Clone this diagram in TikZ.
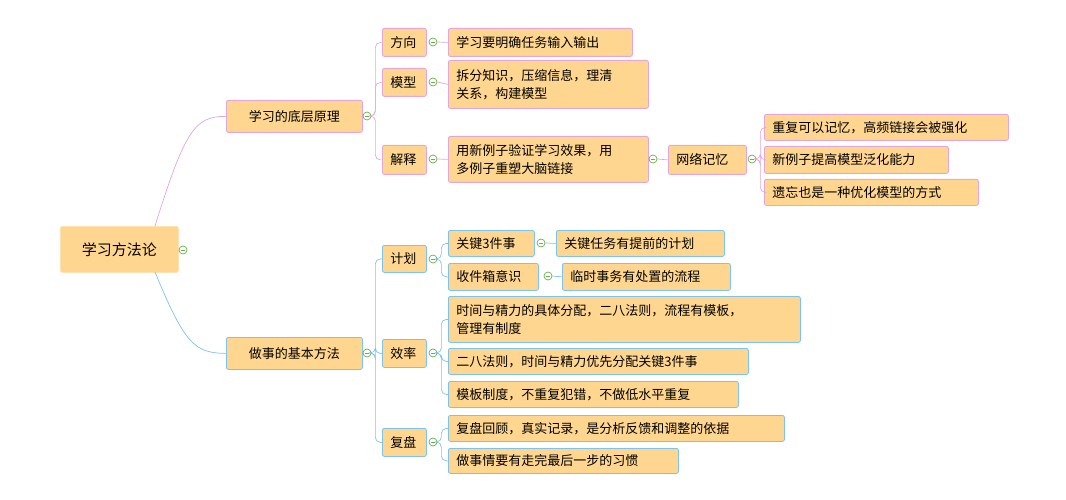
\documentclass[tikz,border=0pt]{standalone}
\usepackage{fontspec}
\newfontfamily\cjk{Noto Sans CJK SC}
\definecolor{fillc}{HTML}{FFD68F}
\definecolor{pinkc}{HTML}{E3A6D8}
\definecolor{bluec}{HTML}{7EC2EE}
\definecolor{greenc}{HTML}{6AB04C}
\tikzset{
 bx/.style={draw, fill=fillc, rounded corners=2pt, anchor=north west, align=left, inner xsep=8pt, inner ysep=0pt, font=\cjk\fontsize{13}{18}\selectfont, line width=0.8pt},
 pk/.style={bx, draw=pinkc},
 bl/.style={bx, draw=bluec},
 cl/.style={circle, draw=greenc, fill=white, minimum size=8pt, inner sep=0pt, line width=0.7pt, path picture={\draw[greenc,line width=0.7pt] ([xshift=-2pt]path picture bounding box.center) -- ([xshift=2pt]path picture bounding box.center);}},
 pl/.style={draw=pinkc, line width=0.7pt, rounded corners=5pt},
 bll/.style={draw=bluec, line width=0.7pt, rounded corners=5pt},
}
\newcommand{\bxn}[7]{\node[#1, minimum width=#5pt, minimum height=#6pt, text width=\dimexpr#5pt-16pt\relax] (#2) at (#3,#4) {#7};}
\begin{document}
\begin{tikzpicture}[x=1pt,y=-1pt]
\useasboundingbox (0,0) rectangle (1066,500);
% root
\node[bx, draw=fillc!70!white, minimum width=118pt, minimum height=46pt, align=center, font=\cjk\fontsize{15}{18}\selectfont] (root) at (60,226) {学习方法论};
\node[cl] (croot) at (183,250) {};
% level1
\bxn{pk,align=center}{a}{226}{100}{136}{32}{学习的底层原理}
\node[cl] (ca) at (367,116) {};
\bxn{bl,align=center}{b}{226}{337}{136}{32}{做事的基本方法}
\node[cl] (cb) at (367,353) {};
\draw[pinkc,line width=0.7pt] (155,226) .. controls (185,130) and (195,116) .. (a.west);
\draw[bluec,line width=0.7pt] (155,272) .. controls (185,345) and (195,353) .. (b.west);
% level2 top
\bxn{pk}{a1}{382}{28}{44}{28}{方向}
\node[cl] (ca1) at (433,42) {};
\bxn{pk}{a2}{382}{68}{44}{28}{模型}
\node[cl] (ca2) at (433,82) {};
\bxn{pk}{a3}{382}{145}{44}{29}{解释}
\node[cl] (ca3) at (433,159) {};
\foreach \t in {a1,a2,a3} \draw[pl] (ca.east) -- ++(4,0) |- (\t.west);
\bxn{pk}{a11}{448}{28}{184}{28}{学习要明确任务输入输出}
\bxn{pk}{a21}{448}{60}{200}{48}{拆分知识，压缩信息，理清\\关系，构建模型}
\bxn{pk}{a31}{448}{136}{200}{46}{用新例子验证学习效果，用\\多例子重塑大脑链接}
\draw[pl] (ca1.east) -- (a11.west);
\draw[pl] (ca2.east) -- (a21.west);
\draw[pl] (ca3.east) -- (a31.west);
\node[cl] (ca31) at (653,159) {};
\bxn{pk}{n}{668}{145}{78}{29}{网络记忆}
\draw[pl] (ca31.east) -- (n.west);
\node[cl] (cn) at (752,159) {};
\bxn{pk}{n1}{764}{114}{244}{26}{重复可以记忆，高频链接会被强化}
\bxn{pk}{n2}{764}{146}{184}{27}{新例子提高模型泛化能力}
\bxn{pk}{n3}{764}{179}{214}{26}{遗忘也是一种优化模型的方式}
\foreach \t in {n1,n2,n3} \draw[pl] (cn.east) -- ++(4,0) |- (\t.west);
% level2 bottom
\bxn{bl}{b1}{382}{245}{44}{27}{计划}
\node[cl] (cb1) at (433,259) {};
\bxn{bl}{b2}{382}{339}{44}{28}{效率}
\node[cl] (cb2) at (433,353) {};
\bxn{bl}{b3}{382}{428}{44}{28}{复盘}
\node[cl] (cb3) at (433,442) {};
\foreach \t in {b1,b2,b3} \draw[bll] (cb.east) -- ++(4,0) |- (\t.west);
\bxn{bl}{p1}{448}{230}{86}{26}{关键3件事}
\bxn{bl}{p2}{448}{263}{90}{27}{收件箱意识}
\foreach \t in {p1,p2} \draw[bll] (cb1.east) -- ++(4,0) |- (\t.west);
\node[cl] (cp1) at (541,243) {};
\node[cl] (cp2) at (548,276) {};
\bxn{bl}{p11}{556}{230}{168}{26}{关键任务有提前的计划}
\bxn{bl}{p21}{562}{263}{168}{27}{临时事务有处置的流程}
\draw[bll] (cp1.east) -- (p11.west);
\draw[bll] (cp2.east) -- (p21.west);
\bxn{bl}{e1}{448}{296}{352}{46}{时间与精力的具体分配，二八法则，流程有模板，\\管理有制度}
\bxn{bl}{e2}{448}{348}{300}{26}{二八法则，时间与精力优先分配关键3件事}
\bxn{bl}{e3}{448}{381}{290}{26}{模板制度，不重复犯错，不做低水平重复}
\foreach \t in {e1,e2,e3} \draw[bll] (cb2.east) -- ++(4,0) |- (\t.west);
\bxn{bl}{r1}{448}{415}{336}{26}{复盘回顾，真实记录，是分析反馈和调整的依据}
\bxn{bl}{r2}{448}{448}{230}{25}{做事情要有走完最后一步的习惯}
\foreach \t in {r1,r2} \draw[bll] (cb3.east) -- ++(4,0) |- (\t.west);
\end{tikzpicture}
\end{document}
